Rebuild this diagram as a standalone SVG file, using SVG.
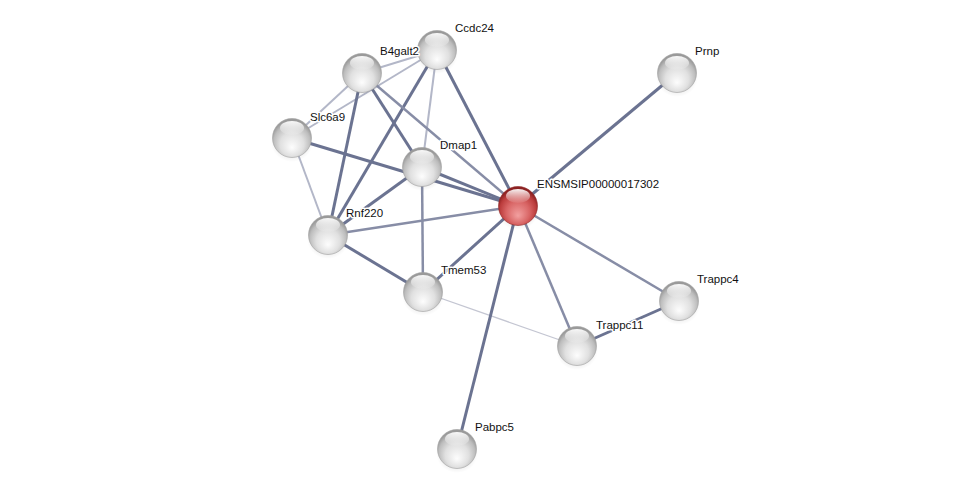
<svg xmlns="http://www.w3.org/2000/svg" width="975" height="495" viewBox="0 0 975 495">
<defs>
<radialGradient id="gGrey" cx="50%" cy="60%" r="55%" fx="50%" fy="75%">
<stop offset="0" stop-color="#fdfdfd"/>
<stop offset="0.55" stop-color="#e0e0e0"/>
<stop offset="0.85" stop-color="#bdbdbd"/>
<stop offset="1" stop-color="#9a9a9a"/>
</radialGradient>
<radialGradient id="gRed" cx="50%" cy="60%" r="55%" fx="50%" fy="75%">
<stop offset="0" stop-color="#f2a0a0"/>
<stop offset="0.55" stop-color="#d86464"/>
<stop offset="0.85" stop-color="#bb3c3c"/>
<stop offset="1" stop-color="#8c2222"/>
</radialGradient>
<linearGradient id="gHi" x1="0" y1="0" x2="0" y2="1">
<stop offset="0" stop-color="#ffffff" stop-opacity="0.95"/>
<stop offset="1" stop-color="#ffffff" stop-opacity="0.05"/>
</linearGradient>
<radialGradient id="gShadow" cx="50%" cy="50%" r="50%">
<stop offset="0" stop-color="#000" stop-opacity="0.22"/>
<stop offset="1" stop-color="#000" stop-opacity="0"/>
</radialGradient>
<g id="sphere">
<ellipse cx="0" cy="4" rx="21" ry="20" fill="url(#gShadow)"/>
<circle r="19.5" fill="url(#gGrey)" stroke="#a0a0a0" stroke-width="0.6"/>
<ellipse cx="0" cy="-10" rx="12" ry="7" fill="url(#gHi)"/>
</g>
<g id="sphereRed">
<ellipse cx="0" cy="4" rx="21" ry="20" fill="url(#gShadow)"/>
<circle r="19.5" fill="url(#gRed)" stroke="#902626" stroke-width="0.6"/>
<ellipse cx="0" cy="-10" rx="12" ry="7" fill="url(#gHi)"/>
</g>
</defs>
<style>
.e1{stroke:#6b7391;stroke-width:3;fill:none}
.e2{stroke:#878da6;stroke-width:2.5;fill:none}
.e3{stroke:#b3b7c8;stroke-width:2;fill:none}
.e4{stroke:#c4c6d2;stroke-width:1.2;fill:none}
.lbl{font-family:"Liberation Sans",Arial,sans-serif;font-size:11.5px;fill:#111;paint-order:stroke;stroke:#ffffff;stroke-width:3px;stroke-linejoin:round}
</style>
<rect width="975" height="495" fill="#ffffff"/>
<g id="connectors">
<line class="e3" x1="437" y1="50" x2="362" y2="73"/>
<line class="e3" x1="437" y1="50" x2="292" y2="138"/>
<line class="e3" x1="362" y1="73" x2="292" y2="138"/>
<line class="e3" x1="437" y1="50" x2="422" y2="167"/>
<line class="e1" x1="437" y1="50" x2="518" y2="206"/>
<line class="e1" x1="437" y1="50" x2="328" y2="235"/>
<line class="e1" x1="362" y1="73" x2="328" y2="235"/>
<line class="e1" x1="362" y1="73" x2="422" y2="167"/>
<line class="e2" x1="362" y1="73" x2="518" y2="206"/>
<line class="e1" x1="292" y1="138" x2="518" y2="206"/>
<line class="e3" x1="292" y1="138" x2="328" y2="235"/>
<line class="e1" x1="422" y1="167" x2="328" y2="235"/>
<line class="e2" x1="422" y1="167" x2="423" y2="292"/>
<line class="e1" x1="422" y1="167" x2="518" y2="206"/>
<line class="e2" x1="328" y1="235" x2="518" y2="206"/>
<line class="e1" x1="328" y1="235" x2="423" y2="292"/>
<line class="e1" x1="423" y1="292" x2="518" y2="206"/>
<line class="e4" x1="423" y1="292" x2="577" y2="346"/>
<line class="e1" x1="518" y1="206" x2="677" y2="73"/>
<line class="e2" x1="518" y1="206" x2="679" y2="301"/>
<line class="e2" x1="518" y1="206" x2="577" y2="346"/>
<line class="e1" x1="518" y1="206" x2="457" y2="449"/>
<line class="e1" x1="679" y1="301" x2="577" y2="346"/>
</g>
<g id="node-Ccdc24"><use href="#sphere" x="437" y="50"/><text class="lbl" x="455" y="32">Ccdc24</text></g>
<g id="node-B4galt2"><use href="#sphere" x="362" y="73"/><text class="lbl" x="380" y="55">B4galt2</text></g>
<g id="node-Slc6a9"><use href="#sphere" x="292" y="138"/><text class="lbl" x="310" y="121">Slc6a9</text></g>
<g id="node-Dmap1"><use href="#sphere" x="422" y="167"/><text class="lbl" x="440" y="149">Dmap1</text></g>
<g id="node-Rnf220"><use href="#sphere" x="328" y="235"/><text class="lbl" x="346" y="217">Rnf220</text></g>
<g id="node-Tmem53"><use href="#sphere" x="423" y="292"/><text class="lbl" x="441" y="274">Tmem53</text></g>
<g id="node-Prnp"><use href="#sphere" x="677" y="73"/><text class="lbl" x="695" y="55">Prnp</text></g>
<g id="node-Trappc4"><use href="#sphere" x="679" y="301"/><text class="lbl" x="697" y="283">Trappc4</text></g>
<g id="node-Trappc11"><use href="#sphere" x="577" y="346"/><text class="lbl" x="596" y="329">Trappc11</text></g>
<g id="node-Pabpc5"><use href="#sphere" x="457" y="449"/><text class="lbl" x="475" y="431">Pabpc5</text></g>
<g id="node-ENSMSIP00000017302"><use href="#sphereRed" x="518" y="206"/><text class="lbl" x="537" y="188">ENSMSIP00000017302</text></g>
</svg>
